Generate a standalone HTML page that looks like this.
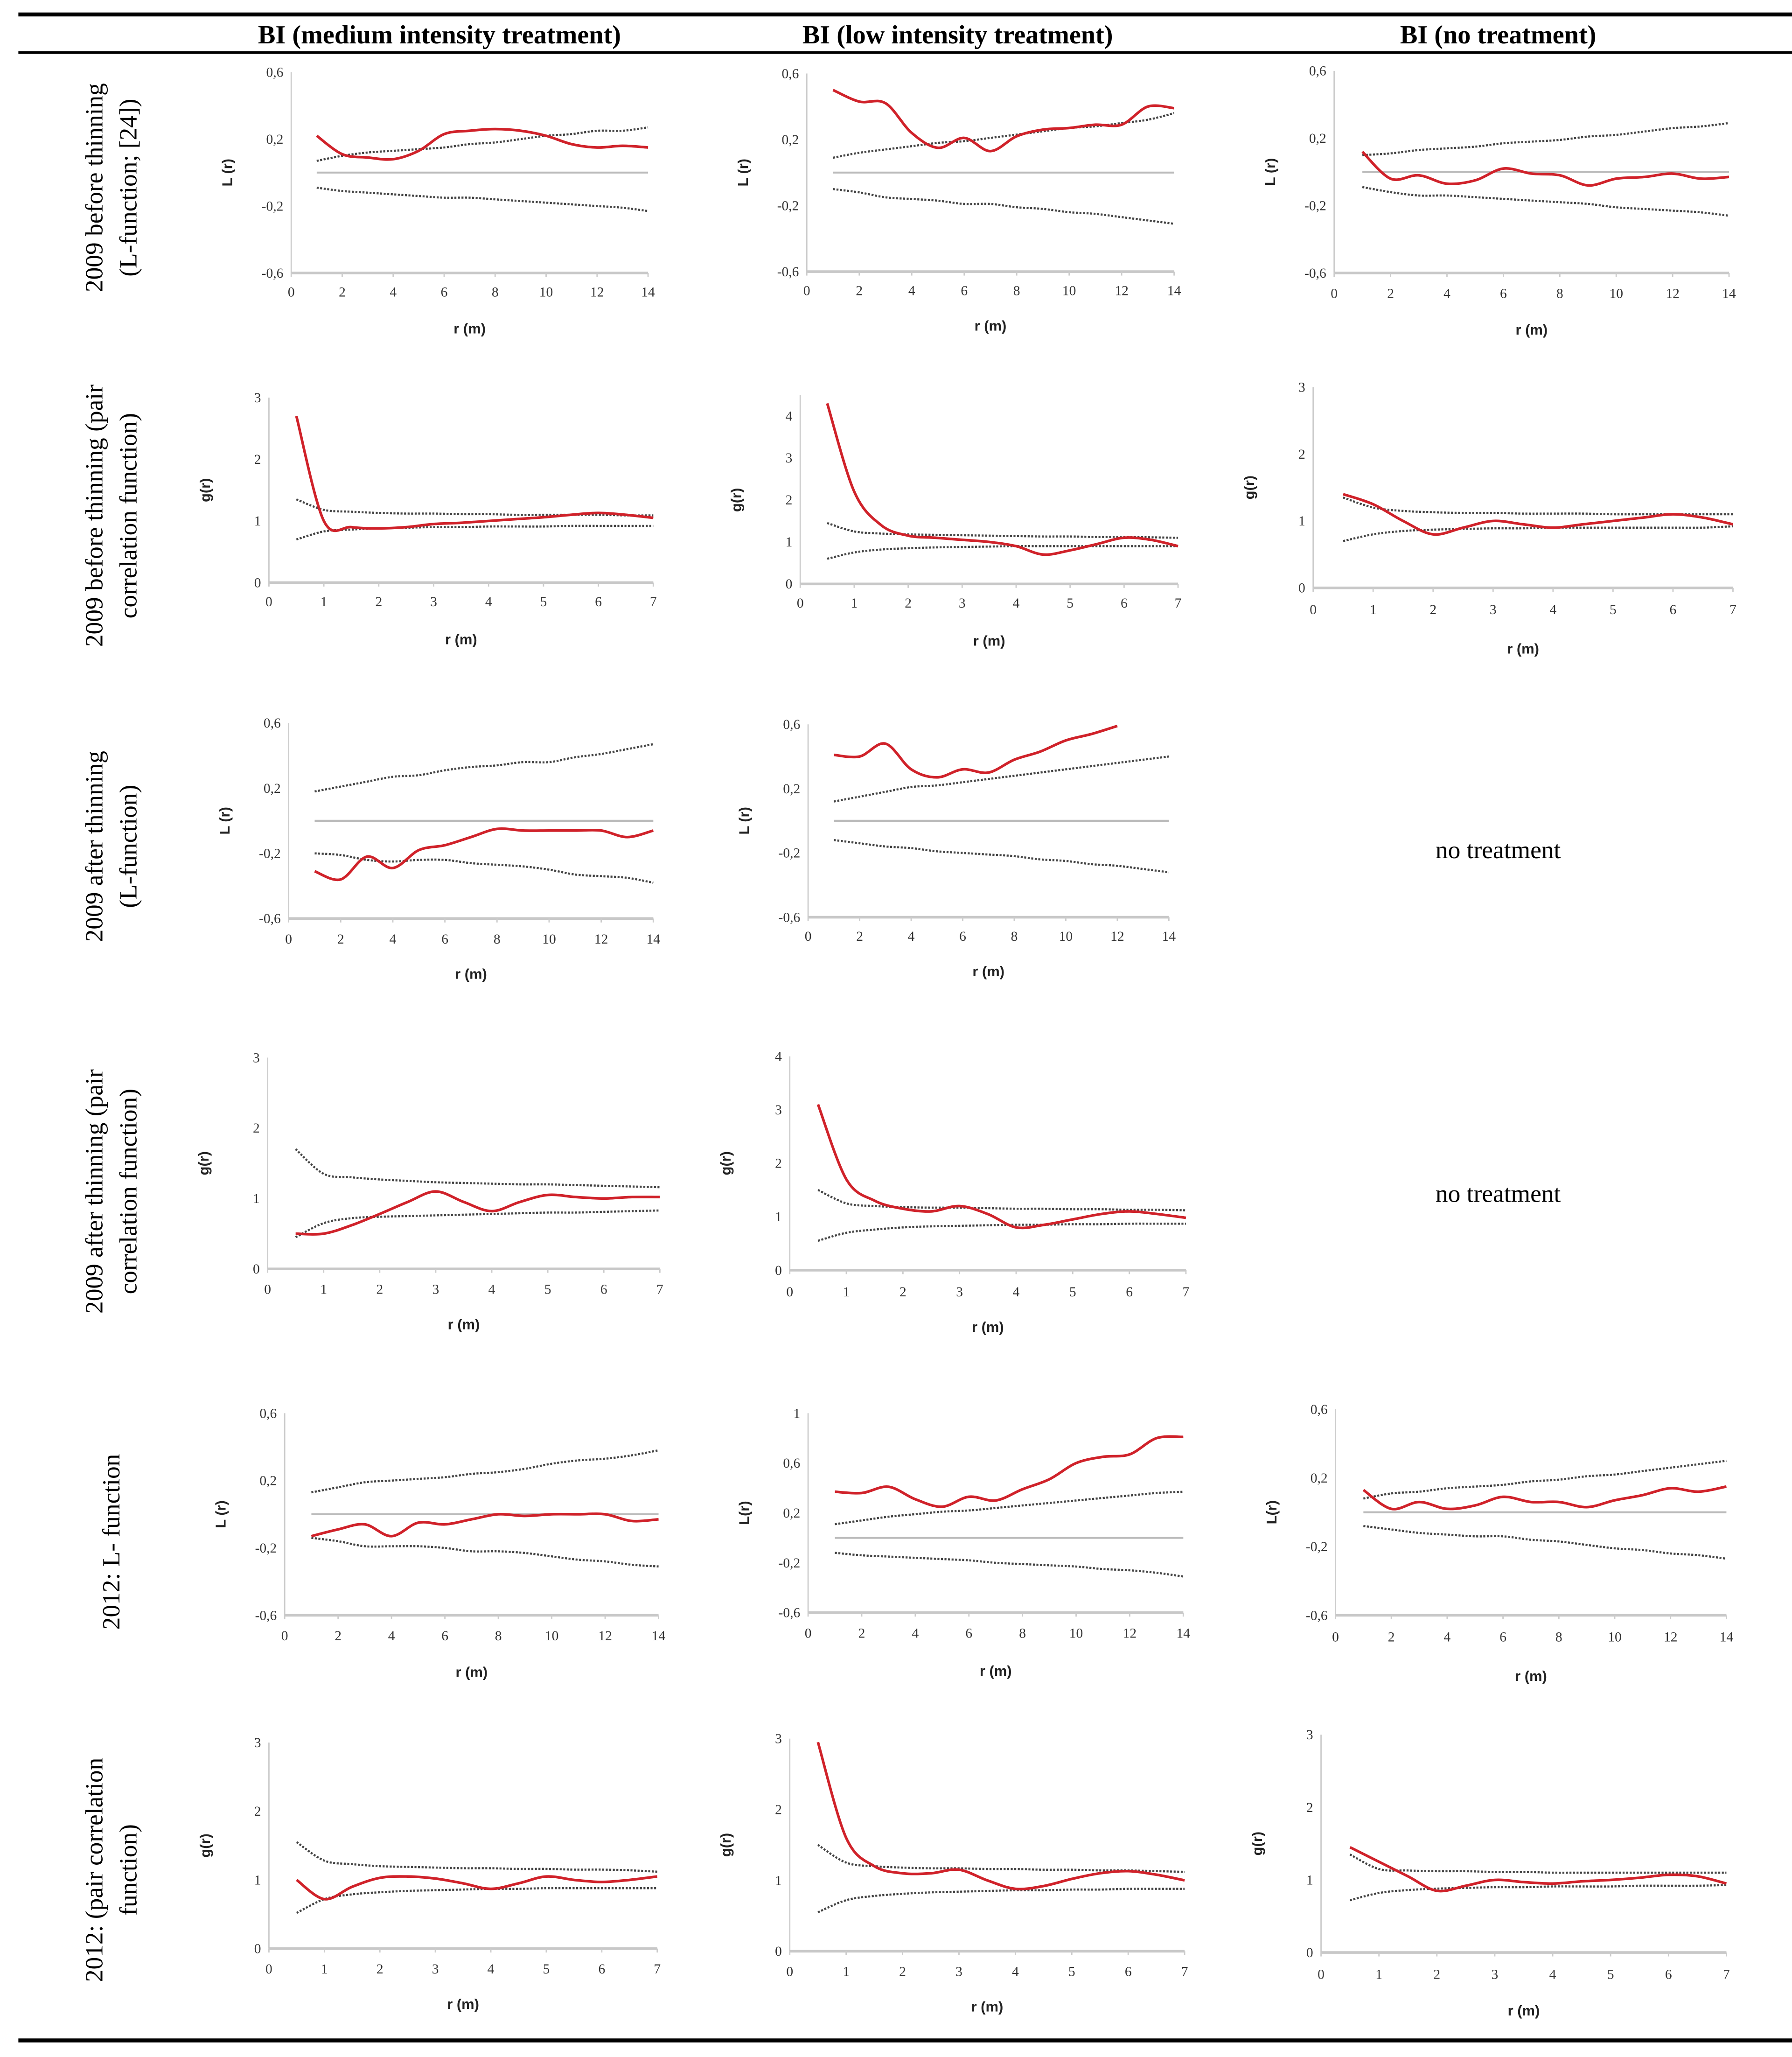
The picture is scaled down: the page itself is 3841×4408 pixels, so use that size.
<!DOCTYPE html>
<html><head><meta charset="utf-8"><style>
html,body{margin:0;padding:0;background:#fff;}
svg{display:block;}
.tk{font-family:"Liberation Serif",serif;font-size:10.5px;fill:#333;}
.ax{font-family:"Liberation Sans",sans-serif;font-size:11px;font-weight:bold;fill:#222;}
.hd{font-family:"Liberation Serif",serif;font-size:20px;font-weight:bold;fill:#000;}
.rl{font-family:"Liberation Serif",serif;font-size:19px;fill:#000;}
.nt{font-family:"Liberation Serif",serif;font-size:19px;fill:#000;}
</style></head><body>
<svg id="fig" width="3841" height="4408" viewBox="0 0 1366 1567.6" xmlns="http://www.w3.org/2000/svg">
<rect x="0" y="0" width="1366" height="1568" fill="#fff"/>
<line x1="14" y1="11" x2="1366" y2="11" stroke="#000" stroke-width="3"/>
<line x1="14" y1="40" x2="1366" y2="40" stroke="#000" stroke-width="2"/>
<line x1="14" y1="1555" x2="1366" y2="1555" stroke="#000" stroke-width="3"/>
<text class="hd" x="335" y="33" text-anchor="middle">BI (medium intensity treatment)</text>
<text class="hd" x="730" y="33" text-anchor="middle">BI (low intensity treatment)</text>
<text class="hd" x="1142" y="33" text-anchor="middle">BI (no treatment)</text>
<g transform="translate(0,143) rotate(-90)"><text class="rl" x="0" y="78" text-anchor="middle">2009 before thinning</text><text class="rl" x="0" y="104" text-anchor="middle">(L-function; [24])</text></g>
<g transform="translate(0,393) rotate(-90)"><text class="rl" x="0" y="78" text-anchor="middle">2009 before thinning (pair</text><text class="rl" x="0" y="104" text-anchor="middle">correlation function)</text></g>
<g transform="translate(0,645) rotate(-90)"><text class="rl" x="0" y="78" text-anchor="middle">2009 after thinning</text><text class="rl" x="0" y="104" text-anchor="middle">(L-function)</text></g>
<g transform="translate(0,908) rotate(-90)"><text class="rl" x="0" y="78" text-anchor="middle">2009 after thinning (pair</text><text class="rl" x="0" y="104" text-anchor="middle">correlation function)</text></g>
<g transform="translate(0,1175) rotate(-90)"><text class="rl" x="0" y="91" text-anchor="middle">2012: L- function</text></g>
<g transform="translate(0,1425) rotate(-90)"><text class="rl" x="0" y="78" text-anchor="middle">2012: (pair correlation</text><text class="rl" x="0" y="104" text-anchor="middle">function)</text></g>
<text class="nt" x="1142" y="654" text-anchor="middle">no treatment</text>
<text class="nt" x="1142" y="916" text-anchor="middle">no treatment</text>
<g id="charts"></g>
</svg>
<script>
// x values
const rL = [1,2,3,4,5,6,7,8,9,10,11,12,13,14];
const rG = [0.5,1,1.5,2,2.5,3,3.5,4,4.5,5,5.5,6,6.5,7];
const xTicksL = [0,2,4,6,8,10,12,14];
const xTicksG = [0,1,2,3,4,5,6,7];
const yTicksL = [-0.6,-0.2,0.2,0.6];
const yTicksL1 = [-0.6,-0.2,0.2,0.6,1];
const yTicksG3 = [0,1,2,3];
const yTicksG4 = [0,1,2,3,4];
// row 1
const r1c1Obs = [0.22,0.11,0.09,0.08,0.13,0.23,0.25,0.26,0.25,0.22,0.17,0.15,0.16,0.15];
const r1c1Up = [0.07,0.10,0.12,0.13,0.14,0.15,0.17,0.18,0.20,0.22,0.23,0.25,0.25,0.27];
const r1c1Lo = [-0.09,-0.11,-0.12,-0.13,-0.14,-0.15,-0.15,-0.16,-0.17,-0.18,-0.19,-0.20,-0.21,-0.23];
const r1c2Obs = [0.50,0.43,0.42,0.24,0.15,0.21,0.13,0.22,0.26,0.27,0.29,0.29,0.40,0.39];
const r1c2Up = [0.09,0.12,0.14,0.16,0.18,0.19,0.21,0.23,0.25,0.27,0.28,0.30,0.32,0.36];
const r1c2Lo = [-0.10,-0.12,-0.15,-0.16,-0.17,-0.19,-0.19,-0.21,-0.22,-0.24,-0.25,-0.27,-0.29,-0.31];
const r1c3Obs = [0.12,-0.04,-0.02,-0.07,-0.05,0.02,-0.01,-0.02,-0.08,-0.04,-0.03,-0.01,-0.04,-0.03];
const r1c3Up = [0.10,0.11,0.13,0.14,0.15,0.17,0.18,0.19,0.21,0.22,0.24,0.26,0.27,0.29];
const r1c3Lo = [-0.09,-0.12,-0.14,-0.14,-0.15,-0.16,-0.17,-0.18,-0.19,-0.21,-0.22,-0.23,-0.24,-0.26];
// row 2
const r2c1Obs = [2.7,1.0,0.9,0.88,0.9,0.95,0.97,1.0,1.03,1.06,1.1,1.13,1.1,1.05];
const r2c1Up = [1.35,1.18,1.15,1.13,1.12,1.12,1.11,1.11,1.10,1.10,1.10,1.10,1.09,1.09];
const r2c1Lo = [0.7,0.83,0.86,0.88,0.89,0.9,0.9,0.91,0.91,0.91,0.92,0.92,0.92,0.92];
const r2c2Obs = [4.3,2.2,1.4,1.15,1.1,1.05,1.0,0.9,0.7,0.8,0.95,1.1,1.05,0.9];
const r2c2Up = [1.45,1.25,1.2,1.18,1.17,1.16,1.15,1.14,1.13,1.13,1.12,1.12,1.11,1.1];
const r2c2Lo = [0.6,0.75,0.82,0.85,0.87,0.88,0.89,0.9,0.9,0.9,0.9,0.9,0.9,0.9];
const r2c3Obs = [1.4,1.25,1.0,0.8,0.9,1.0,0.95,0.9,0.95,1.0,1.05,1.1,1.05,0.95];
const r2c3Up = [1.35,1.2,1.15,1.13,1.12,1.12,1.11,1.11,1.11,1.1,1.1,1.1,1.1,1.1];
const r2c3Lo = [0.7,0.8,0.85,0.87,0.88,0.89,0.89,0.9,0.9,0.9,0.9,0.9,0.9,0.92];
// row 3
const r3c1Obs = [-0.31,-0.36,-0.22,-0.29,-0.18,-0.15,-0.10,-0.05,-0.06,-0.06,-0.06,-0.06,-0.10,-0.06];
const r3c1Up = [0.18,0.21,0.24,0.27,0.28,0.31,0.33,0.34,0.36,0.36,0.39,0.41,0.44,0.47];
const r3c1Lo = [-0.20,-0.21,-0.24,-0.25,-0.24,-0.24,-0.26,-0.27,-0.28,-0.30,-0.33,-0.34,-0.35,-0.38];
const r3c2Obs = [0.41,0.40,0.48,0.32,0.27,0.32,0.30,0.38,0.43,0.50,0.54,0.59];
const r3c2Up = [0.12,0.15,0.18,0.21,0.22,0.24,0.26,0.28,0.30,0.32,0.34,0.36,0.38,0.40];
const r3c2Lo = [-0.12,-0.14,-0.16,-0.17,-0.19,-0.20,-0.21,-0.22,-0.24,-0.25,-0.27,-0.28,-0.30,-0.32];
// row 4
const r4c1Obs = [0.5,0.5,0.62,0.78,0.95,1.1,0.95,0.82,0.95,1.05,1.02,1.0,1.02,1.02];
const r4c1Up = [1.7,1.35,1.3,1.27,1.25,1.23,1.22,1.21,1.2,1.2,1.19,1.18,1.17,1.16];
const r4c1Lo = [0.45,0.65,0.72,0.74,0.75,0.76,0.77,0.78,0.79,0.8,0.8,0.81,0.82,0.83];
const r4c2Obs = [3.1,1.7,1.3,1.15,1.1,1.2,1.05,0.8,0.85,0.95,1.05,1.1,1.05,0.98];
const r4c2Up = [1.5,1.25,1.2,1.18,1.17,1.17,1.16,1.15,1.15,1.14,1.14,1.13,1.13,1.12];
const r4c2Lo = [0.55,0.7,0.76,0.8,0.82,0.83,0.84,0.85,0.85,0.86,0.86,0.87,0.87,0.87];
// row 5
const r5c1Obs = [-0.13,-0.09,-0.06,-0.13,-0.05,-0.06,-0.03,0.00,-0.01,0.00,0.00,0.00,-0.04,-0.03];
const r5c1Up = [0.13,0.16,0.19,0.20,0.21,0.22,0.24,0.25,0.27,0.30,0.32,0.33,0.35,0.38];
const r5c1Lo = [-0.14,-0.16,-0.19,-0.19,-0.19,-0.20,-0.22,-0.22,-0.23,-0.25,-0.27,-0.28,-0.30,-0.31];
const r5c2Obs = [0.37,0.36,0.41,0.31,0.25,0.33,0.30,0.39,0.47,0.60,0.65,0.67,0.80,0.81];
const r5c2Up = [0.11,0.14,0.17,0.19,0.21,0.22,0.24,0.26,0.28,0.30,0.32,0.34,0.36,0.37];
const r5c2Lo = [-0.12,-0.14,-0.15,-0.16,-0.17,-0.18,-0.20,-0.21,-0.22,-0.23,-0.25,-0.26,-0.28,-0.31];
const r5c3Obs = [0.13,0.02,0.06,0.02,0.04,0.09,0.06,0.06,0.03,0.07,0.10,0.14,0.12,0.15];
const r5c3Up = [0.08,0.11,0.12,0.14,0.15,0.16,0.18,0.19,0.21,0.22,0.24,0.26,0.28,0.30];
const r5c3Lo = [-0.08,-0.10,-0.12,-0.13,-0.14,-0.14,-0.16,-0.17,-0.19,-0.21,-0.22,-0.24,-0.25,-0.27];
// row 6
const r6c1Obs = [1.0,0.72,0.9,1.03,1.05,1.02,0.95,0.87,0.95,1.05,1.0,0.97,1.0,1.05];
const r6c1Up = [1.55,1.28,1.23,1.2,1.19,1.18,1.17,1.17,1.16,1.16,1.15,1.15,1.14,1.12];
const r6c1Lo = [0.52,0.72,0.79,0.82,0.84,0.85,0.86,0.87,0.87,0.88,0.88,0.88,0.88,0.88];
const r6c2Obs = [2.95,1.6,1.2,1.1,1.1,1.15,1.0,0.88,0.92,1.02,1.1,1.13,1.08,1.0];
const r6c2Up = [1.5,1.25,1.2,1.18,1.17,1.17,1.16,1.16,1.15,1.15,1.14,1.14,1.13,1.12];
const r6c2Lo = [0.55,0.72,0.78,0.81,0.83,0.84,0.85,0.86,0.86,0.87,0.87,0.88,0.88,0.88];
const r6c3Obs = [1.45,1.25,1.05,0.85,0.92,1.0,0.97,0.95,0.98,1.0,1.03,1.07,1.05,0.95];
const r6c3Up = [1.35,1.15,1.13,1.12,1.12,1.11,1.11,1.1,1.1,1.1,1.1,1.1,1.1,1.1];
const r6c3Lo = [0.72,0.82,0.86,0.88,0.89,0.9,0.9,0.91,0.91,0.91,0.92,0.92,0.92,0.93];

const NS = "http://www.w3.org/2000/svg";
const root = document.getElementById('charts');
function mk(tag, parent){ const e = document.createElementNS(NS, tag); parent.appendChild(e); return e; }
function smooth(pts){
  if(pts.length<2) return '';
  let d = 'M'+pts[0][0].toFixed(2)+','+pts[0][1].toFixed(2);
  for(let i=0;i<pts.length-1;i++){
    const p0=pts[Math.max(0,i-1)], p1=pts[i], p2=pts[i+1], p3=pts[Math.min(pts.length-1,i+2)];
    const c1=[p1[0]+(p2[0]-p0[0])/6, p1[1]+(p2[1]-p0[1])/6];
    const c2=[p2[0]-(p3[0]-p1[0])/6, p2[1]-(p3[1]-p1[1])/6];
    d+=' C'+c1[0].toFixed(2)+','+c1[1].toFixed(2)+' '+c2[0].toFixed(2)+','+c2[1].toFixed(2)+' '+p2[0].toFixed(2)+','+p2[1].toFixed(2);
  }
  return d;
}
function fmt(v){ return String(Math.round(v*10)/10).replace('.',','); }

function chart(name, P){
  const g = mk('g', root);
  
  
  const ymin = P.yticks[0], ymax = P.yticks[P.yticks.length-1];
  const xmax = P.xticks[P.xticks.length-1];
  const sx = v => P.x0 + (v/xmax)*(P.x1-P.x0);
  const sy = v => P.yb - (v-ymin)/(ymax-ymin)*(P.yb-P.yt);
  const ya = mk('line', g);
  
  
  ya.setAttribute('x1', P.x0); ya.setAttribute('x2', P.x0);
  ya.setAttribute('y1', P.ytop || P.yt); ya.setAttribute('y2', P.yb);
  ya.setAttribute('stroke', '#ccc'); ya.setAttribute('stroke-width', '1');
  const xa = mk('line', g);
  
  
  xa.setAttribute('x1', P.x0); xa.setAttribute('x2', P.x1);
  xa.setAttribute('y1', P.yb); xa.setAttribute('y2', P.yb);
  xa.setAttribute('stroke', '#c8c8c8'); xa.setAttribute('stroke-width', '2');
  P.yticks.forEach(v=>{
    const t = mk('text', g);
    
    
    t.setAttribute('class', 'tk');
    t.setAttribute('x', P.x0-6); t.setAttribute('y', sy(v)+3.5);
    t.setAttribute('text-anchor', 'end');
    t.textContent = fmt(v);
  });
  P.xticks.forEach(v=>{
    const t = mk('text', g);
    
    
    t.setAttribute('class', 'tk');
    t.setAttribute('x', sx(v)); t.setAttribute('y', P.tickY);
    t.setAttribute('text-anchor', 'middle');
    t.textContent = String(v);
    const tm = mk('line', g);
    
    
    tm.setAttribute('x1', sx(v)); tm.setAttribute('x2', sx(v));
    tm.setAttribute('y1', P.yb); tm.setAttribute('y2', P.yb+3);
    tm.setAttribute('stroke', '#ccc');
  });
  const xt = mk('text', g);
  
  
  xt.setAttribute('class', 'ax');
  xt.setAttribute('x', (P.x0+P.x1)/2); xt.setAttribute('y', P.titleY);
  xt.setAttribute('text-anchor', 'middle');
  xt.textContent = 'r (m)';
  const yt = mk('text', g);
  
  
  yt.setAttribute('class', 'ax');
  const yc = (P.yt+P.yb)/2, xc = P.x0-45;
  yt.setAttribute('transform', 'translate('+xc+','+yc+') rotate(-90)');
  yt.setAttribute('text-anchor', 'middle');
  yt.textContent = P.ylab;
  const xs = P.kind==='L' ? rL : rG;
  if(P.kind==='L'){
    const z = mk('line', g);
    
    
    z.setAttribute('x1', sx(xs[0])); z.setAttribute('x2', sx(xs[xs.length-1]));
    z.setAttribute('y1', sy(0)); z.setAttribute('y2', sy(0));
    z.setAttribute('stroke', '#bbb'); z.setAttribute('stroke-width', '1.5');
  }
  [[P.up,'upper-envelope'],[P.lo,'lower-envelope']].forEach(([arr,nm])=>{
    const p = mk('path', g);
    
    
    p.setAttribute('d', smooth(arr.map((v,i)=>[sx(xs[i]), sy(v)])));
    p.setAttribute('fill', 'none'); p.setAttribute('stroke', '#444');
    p.setAttribute('stroke-width', '1.6'); p.setAttribute('stroke-dasharray', '1.5 1.2');
  });
  const o = mk('path', g);
  
  
  o.setAttribute('d', smooth(P.obs.map((v,i)=>[sx(xs[i]), sy(v)])));
  o.setAttribute('fill', 'none'); o.setAttribute('stroke', '#d0222a');
  o.setAttribute('stroke-width', '2');
}

chart('chart-r1-medium',{kind:'L',x0:222,x1:494,yt:55,yb:208,yticks:yTicksL,xticks:xTicksL,tickY:226,titleY:254,ylab:'L (r)',obs:r1c1Obs,up:r1c1Up,lo:r1c1Lo});
chart('chart-r1-low',{kind:'L',x0:615,x1:895,yt:56,yb:207,yticks:yTicksL,xticks:xTicksL,tickY:225,titleY:252,ylab:'L (r)',obs:r1c2Obs,up:r1c2Up,lo:r1c2Lo});
chart('chart-r1-none',{kind:'L',x0:1017,x1:1318,yt:54,yb:208,yticks:yTicksL,xticks:xTicksL,tickY:227,titleY:255,ylab:'L (r)',obs:r1c3Obs,up:r1c3Up,lo:r1c3Lo});
chart('chart-r2-medium',{kind:'G',x0:205,x1:498,yt:303,yb:444,yticks:yTicksG3,xticks:xTicksG,tickY:462,titleY:491,ylab:'g(r)',obs:r2c1Obs,up:r2c1Up,lo:r2c1Lo});
chart('chart-r2-low',{kind:'G',x0:610,x1:898,yt:317,yb:445,ytop:301,yticks:yTicksG4,xticks:xTicksG,tickY:463,titleY:492,ylab:'g(r)',obs:r2c2Obs,up:r2c2Up,lo:r2c2Lo});
chart('chart-r2-none',{kind:'G',x0:1001,x1:1321,yt:295,yb:448,yticks:yTicksG3,xticks:xTicksG,tickY:468,titleY:498,ylab:'g(r)',obs:r2c3Obs,up:r2c3Up,lo:r2c3Lo});
chart('chart-r3-medium',{kind:'L',x0:220,x1:498,yt:551,yb:700,yticks:yTicksL,xticks:xTicksL,tickY:719,titleY:746,ylab:'L (r)',obs:r3c1Obs,up:r3c1Up,lo:r3c1Lo});
chart('chart-r3-low',{kind:'L',x0:616,x1:891,yt:552,yb:699,yticks:yTicksL,xticks:xTicksL,tickY:717,titleY:744,ylab:'L (r)',obs:r3c2Obs,up:r3c2Up,lo:r3c2Lo});
chart('chart-r4-medium',{kind:'G',x0:204,x1:503,yt:806,yb:967,yticks:yTicksG3,xticks:xTicksG,tickY:986,titleY:1013,ylab:'g(r)',obs:r4c1Obs,up:r4c1Up,lo:r4c1Lo});
chart('chart-r4-low',{kind:'G',x0:602,x1:904,yt:805,yb:968,yticks:yTicksG4,xticks:xTicksG,tickY:988,titleY:1015,ylab:'g(r)',obs:r4c2Obs,up:r4c2Up,lo:r4c2Lo});
chart('chart-r5-medium',{kind:'L',x0:217,x1:502,yt:1077,yb:1231,yticks:yTicksL,xticks:xTicksL,tickY:1250,titleY:1278,ylab:'L (r)',obs:r5c1Obs,up:r5c1Up,lo:r5c1Lo});
chart('chart-r5-low',{kind:'L',x0:616,x1:902,yt:1077,yb:1229,yticks:yTicksL1,xticks:xTicksL,tickY:1248,titleY:1277,ylab:'L(r)',obs:r5c2Obs,up:r5c2Up,lo:r5c2Lo});
chart('chart-r5-none',{kind:'L',x0:1018,x1:1316,yt:1074,yb:1231,yticks:yTicksL,xticks:xTicksL,tickY:1251,titleY:1281,ylab:'L(r)',obs:r5c3Obs,up:r5c3Up,lo:r5c3Lo});
chart('chart-r6-medium',{kind:'G',x0:205,x1:501,yt:1328,yb:1485,yticks:yTicksG3,xticks:xTicksG,tickY:1504,titleY:1531,ylab:'g(r)',obs:r6c1Obs,up:r6c1Up,lo:r6c1Lo});
chart('chart-r6-low',{kind:'G',x0:602,x1:903,yt:1325,yb:1487,yticks:yTicksG3,xticks:xTicksG,tickY:1506,titleY:1533,ylab:'g(r)',obs:r6c2Obs,up:r6c2Up,lo:r6c2Lo});
chart('chart-r6-none',{kind:'G',x0:1007,x1:1316,yt:1322,yb:1488,yticks:yTicksG3,xticks:xTicksG,tickY:1508,titleY:1536,ylab:'g(r)',obs:r6c3Obs,up:r6c3Up,lo:r6c3Lo});
</script>
</body></html>
